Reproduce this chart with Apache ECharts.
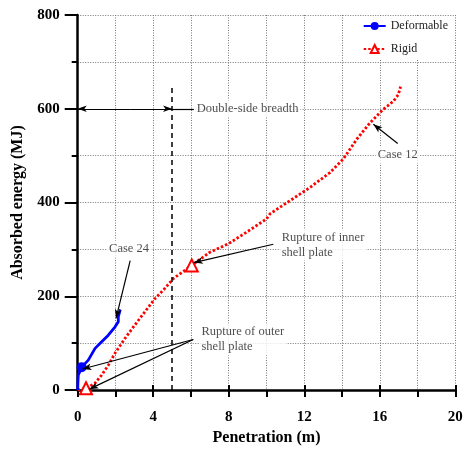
<!DOCTYPE html>
<html><head><meta charset="utf-8">
<script src="https://cdn.jsdelivr.net/npm/echarts@6/dist/echarts.min.js"></script>
<style>html,body{margin:0;padding:0;background:#fff}#c{width:466px;height:451px}</style>
</head><body><div id="c"></div>
<script>
// ---- data ----
const deformX = [0, 0.01, 0.03, 0.21, 0.56, 0.92, 1.27, 1.62, 1.98, 2.15, 2.07, 2.15, 2.24, 2.27];
const deformY = [0, 15, 32, 49, 64, 89, 103, 117, 135, 146, 149, 156, 170, 172];
const deformMarkerIdx = [3];
const rigidX = [0, 0.44, 0.56, 0.92, 1.27, 1.62, 1.98, 2.5, 3.03, 3.56, 4.09, 4.53, 5.07, 6.04, 7.0, 7.98, 8.95, 10.0, 10.19, 11.24, 12.3, 13.36, 14.07, 14.78, 15.48, 16.19, 16.72, 16.98, 17.1];
const rigidY = [0, 4, 6, 15, 32, 53, 79, 110, 139, 167, 195, 213, 238, 266, 294, 312, 337, 365, 376, 404, 432, 464, 493, 535, 570, 599, 616, 630, 647];
const rigidMarkerIdx = [1, 13];
const xTicks = [0, 4, 8, 12, 16, 20];
const yTicks = [0, 200, 400, 600, 800];
const breadthX = 5;
// annotations: [label, x, y, position, align]
const annoLabels = ['Double-side breadth', 'Case 12', 'Case 24', 'Rupture of inner\nshell plate', 'Rupture of outer\nshell plate'];
const annoX = [6.2, 16.95, 2.72, 10.7, 6.45];
const annoY = [600, 502, 301, 310, 108];
const annoPos = ['right', 'inside', 'inside', 'right', 'right'];
const annoAlign = ['left', 'center', 'center', 'left', 'left'];
// arrows: from -> to
const arrowFrom = [[2.8, 600], [2.8, 600], [16.95, 526], [2.78, 276], [10.36, 311], [6.12, 108], [6.12, 108]];
const arrowTo   = [[0, 600], [5, 600], [15.66, 567], [2.03, 153], [6.15, 272], [0.25, 45], [0.62, 2]];
const plainLineFrom = [[5, 600]];
const plainLineTo = [[6.15, 600]];

const FONT = 'Liberation Serif, Times New Roman, serif';
function mk(xs, ys, idx, sym, size) {
  return xs.map((x, i) => idx.includes(i) ? { value: [x, ys[i]], symbol: sym, symbolSize: size } : { value: [x, ys[i]], symbol: 'none' });
}
const chart = echarts.init(document.getElementById('c'), null, { renderer: 'canvas' });
const gridOpt = { left: 77.7, right: 10.7, top: 15, bottom: 59.3 };
const arrowData = arrowFrom.map((f, i) => [
  { coord: f, symbol: 'none' },
  { coord: arrowTo[i], symbol: 'arrow', symbolSize: [5, 9] }
]);
plainLineFrom.forEach((f, i) => arrowData.push([{ coord: f, symbol: 'none' }, { coord: plainLineTo[i], symbol: 'none' }]));
arrowData.push([{ coord: [breadthX, 0], symbol: 'none', lineStyle: { type: [5, 4], width: 1.5 } }, { coord: [breadthX, 652], symbol: 'none' }]);

chart.setOption({
  animation: false,
  backgroundColor: '#fff',
  grid: gridOpt,
  legend: {
    data: ['Deformable', 'Rigid'],
    orient: 'vertical', right: 14, top: 16,
    itemWidth: 22, itemHeight: 10, itemGap: 11,
    backgroundColor: '#fff', padding: [4, 4, 4, 6],
    textStyle: { fontFamily: FONT, fontSize: 12, color: '#222' }
  },
  xAxis: [{
    type: 'value', min: 0, max: 20, interval: 2,
    name: 'Penetration (m)', nameLocation: 'middle', nameGap: 38,
    nameTextStyle: { fontFamily: FONT, fontSize: 16, fontWeight: 'bold', color: '#000' },
    axisLine: { lineStyle: { color: '#000', width: 2.5 } },
    axisTick: { length: 7, lineStyle: { color: '#000', width: 2 } },
    axisLabel: { margin: 20, fontFamily: FONT, fontSize: 15, fontWeight: 'bold', color: '#000',
      formatter: v => xTicks.includes(v) ? String(v) : '' },
    splitLine: { show: true, lineStyle: { color: '#777', type: [1, 1.5], width: 1 } }
  }, {
    type: 'value', min: 0, max: 20, interval: 4, position: 'bottom',
    axisLine: { show: false }, axisLabel: { show: false }, splitLine: { show: false },
    axisTick: { inside: true, length: 5, lineStyle: { color: '#000', width: 2 } }
  }, {
    type: 'value', min: 0, max: 20, interval: 4, position: 'bottom',
    axisLine: { show: false }, axisLabel: { show: false }, splitLine: { show: false },
    axisTick: { length: 3, lineStyle: { color: '#000', width: 2 } }
  }],
  yAxis: [{
    type: 'value', min: 0, max: 800, interval: 100,
    name: 'Absorbed energy (MJ)', nameLocation: 'middle', nameGap: 40,
    nameTextStyle: { fontFamily: FONT, fontSize: 16, fontWeight: 'bold', color: '#000' },
    axisLine: { lineStyle: { color: '#000', width: 2.5 } },
    axisTick: { length: 6, lineStyle: { color: '#000', width: 2 } },
    axisLabel: { margin: 18, fontFamily: FONT, fontSize: 15, fontWeight: 'bold', color: '#000',
      formatter: v => yTicks.includes(v) ? String(v) : '' },
    splitLine: { show: true, lineStyle: { color: '#777', type: [1, 1.5], width: 1 } }
  }, {
    type: 'value', min: 0, max: 800, interval: 200, position: 'left',
    axisLine: { show: false }, axisLabel: { show: false }, splitLine: { show: false },
    axisTick: { length: 13, lineStyle: { color: '#000', width: 2 } }
  }],
  series: [
    {
      name: 'Deformable', type: 'line', symbol: 'circle', symbolSize: 9,
      color: '#0000ff',
      lineStyle: { width: 2.8, color: '#0000ff' },
      itemStyle: { color: '#0000ff' },
      data: mk(deformX, deformY, deformMarkerIdx, 'circle', 10), z: 4
    },
    {
      name: 'Rigid', type: 'line', symbol: 'triangle', symbolSize: 11,
      color: '#ff0000',
      lineStyle: { width: 2.8, color: '#ff0000', type: [2.5, 2] },
      itemStyle: { color: '#fff', borderColor: '#ff0000', borderWidth: 2 },
      data: mk(rigidX, rigidY, rigidMarkerIdx, 'triangle', 12), z: 3
    },
    {
      name: 'anno', type: 'scatter', symbolSize: 0, z: 6,
      data: annoX.map((x, i) => ({ value: [x, annoY[i]], label: { position: annoPos[i], align: annoAlign[i] } })),
      label: {
        show: true, fontFamily: FONT, fontSize: 12.5, color: '#222', lineHeight: 15,
        backgroundColor: '#fff', padding: [1, 2], distance: 0,
        formatter: p => annoLabels[p.dataIndex]
      },
      markLine: {
        silent: true, symbol: ['none', 'arrow'], precision: 5,
        label: { show: false },
        lineStyle: { color: '#000', width: 1.2, type: 'solid' },
        data: arrowData
      }
    }
  ]
});
</script></body></html>
